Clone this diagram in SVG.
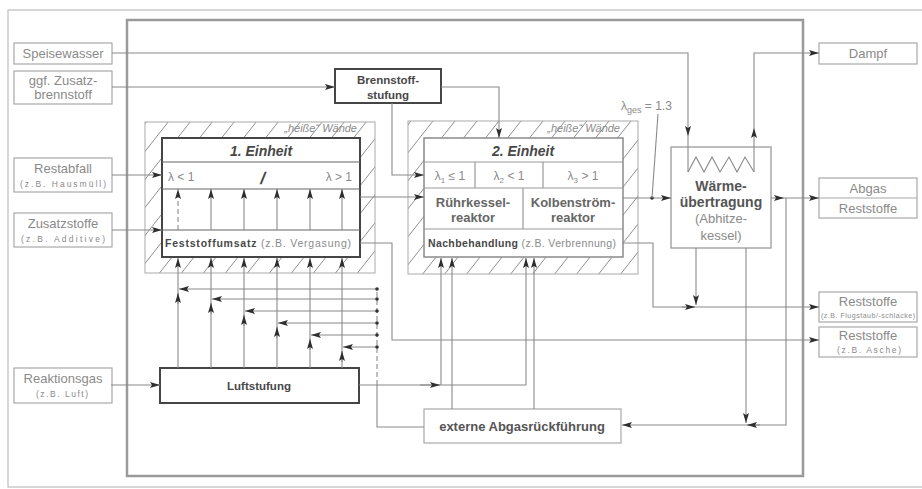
<svg xmlns="http://www.w3.org/2000/svg" width="922" height="489" viewBox="0 0 922 489">
<style>
.ln{stroke:#8a8a8a;fill:none;stroke-width:1.1}
.dl{stroke:#8a8a8a;fill:none;stroke-width:1.1;stroke-dasharray:5 3}
.bx{fill:#fff;stroke:#a8a8a8;stroke-width:1.2}
.tb{fill:#fff;stroke:#454545;stroke-width:2}
.hb{fill:url(#h);stroke:#aaa;stroke-width:1}
.t{font-family:"Liberation Sans",Arial,sans-serif;fill:#8a8a8a;font-size:13px;text-anchor:middle}
.s{font-size:8.5px}
.b{font-weight:bold;fill:#484848}
.g{font-weight:normal;fill:#8a8a8a}
.i{font-style:italic}
.hw{font-size:11px;text-anchor:end;font-style:italic}
</style>
<defs>
<pattern id="h" width="22" height="28" patternUnits="userSpaceOnUse">
<path d="M-2,30.5 L24,-2.5" stroke="#8e8e8e" stroke-width="1"/>
</pattern>
<marker id="a" viewBox="0 0 10 6" refX="10" refY="3" markerWidth="10" markerHeight="6" orient="auto" markerUnits="userSpaceOnUse">
<path d="M0,0 L10,3 L0,6 L2,3 z" fill="#2e2e2e"/>
</marker>
</defs>
<rect x="0" y="0" width="922" height="489" fill="#fff"/>
<rect x="8" y="10" width="920" height="477" fill="none" stroke="#bdbdbd" stroke-width="1.2"/>
<rect x="127" y="20" width="676" height="456" fill="none" stroke="#9a9a9a" stroke-width="2.5"/>

<g id="in-speisewasser"><rect class="bx" x="14" y="43" width="98" height="21"/><text class="t" x="63" y="58">Speisewasser</text></g>
<g id="in-zusatzbrennstoff"><rect class="bx" x="14" y="71" width="98" height="33"/><text class="t" x="63" y="85">ggf. Zusatz-</text><text class="t" x="63" y="99">brennstoff</text></g>
<g id="in-restabfall"><rect class="bx" x="14" y="158" width="98" height="34"/><text class="t" x="63" y="173">Restabfall</text><text class="t s" x="63" y="187" textLength="86" lengthAdjust="spacing">(z.B. Hausmüll)</text></g>
<g id="in-zusatzstoffe"><rect class="bx" x="14" y="213" width="98" height="34"/><text class="t" x="63" y="228">Zusatzstoffe</text><text class="t s" x="63" y="242" textLength="84" lengthAdjust="spacing">(z.B. Additive)</text></g>
<g id="in-reaktionsgas"><rect class="bx" x="14" y="368" width="98" height="35"/><text class="t" x="63" y="383">Reaktionsgas</text><text class="t s" x="62" y="397" textLength="52" lengthAdjust="spacing">(z.B. Luft)</text></g>

<g id="out-dampf"><rect class="bx" x="819" y="43" width="98" height="21"/><text class="t" x="868" y="58">Dampf</text></g>
<g id="out-abgas"><rect class="bx" x="819" y="178" width="98" height="40"/><line x1="819" y1="198" x2="917" y2="198" stroke="#a8a8a8" stroke-width="1.2"/><text class="t" x="868" y="193">Abgas</text><text class="t" x="868" y="213">Reststoffe</text></g>
<g id="out-reststoffe-flugstaub"><rect class="bx" x="819" y="292" width="98" height="30"/><text class="t" x="868" y="306">Reststoffe</text><text class="t" x="868" y="318" style="font-size:7px" textLength="94" lengthAdjust="spacing">(z.B. Flugstaub/-schlacke)</text></g>
<g id="out-reststoffe-asche"><rect class="bx" x="819" y="327" width="98" height="30"/><text class="t" x="868" y="340">Reststoffe</text><text class="t s" x="869" y="353" textLength="64" lengthAdjust="spacing">(z.B. Asche)</text></g>

<g id="einheit1">
<rect class="hb" x="145" y="122" width="230" height="151"/>
<text class="t hw" x="357" y="132">„heiße“ Wände</text>
<rect class="tb" x="162" y="138" width="198" height="119"/>
<line x1="162" y1="162" x2="360" y2="162" stroke="#666" stroke-width="1.2"/>
<line x1="162" y1="189" x2="360" y2="189" stroke="#666" stroke-width="1.2"/>
<line x1="162" y1="230" x2="360" y2="230" stroke="#666" stroke-width="1.2"/>
<text class="t b i" x="261" y="156" style="font-size:14px">1. Einheit</text>
<text class="t" x="168" y="181" style="font-size:12px;text-anchor:start">λ &lt; 1</text>
<text class="t" x="352" y="181" style="font-size:12px;text-anchor:end">λ &gt; 1</text>
<text class="t b" x="262" y="184" style="font-size:17px" transform="skewX(-12) translate(39,0)">/</text>
<text class="t b" x="165" y="247" style="font-size:10.5px;text-anchor:start" textLength="186" lengthAdjust="spacing">Feststoffumsatz <tspan class="g">(z.B. Vergasung)</tspan></text>
</g>

<g id="einheit2">
<rect class="hb" x="408" y="121" width="230" height="153"/>
<text class="t hw" x="620" y="132">„heiße“ Wände</text>
<rect x="424" y="138" width="199" height="119" fill="#fff" stroke="#8a8a8a" stroke-width="1.5"/>
<line x1="424" y1="162" x2="623" y2="162" stroke="#999" stroke-width="1.2"/>
<line x1="424" y1="188" x2="623" y2="188" stroke="#999" stroke-width="1.2"/>
<line x1="424" y1="229" x2="623" y2="229" stroke="#999" stroke-width="1.2"/>
<line x1="475" y1="162" x2="475" y2="188" stroke="#999" stroke-width="1.2"/>
<line x1="543" y1="162" x2="543" y2="188" stroke="#999" stroke-width="1.2"/>
<line x1="523" y1="188" x2="523" y2="229" stroke="#999" stroke-width="1.2"/>
<text class="t b i" x="523" y="156" style="font-size:14px">2. Einheit</text>
<text class="t" x="450" y="180" style="font-size:12px">λ<tspan dy="3" style="font-size:8px">1</tspan><tspan dy="-3"> ≤ 1</tspan></text>
<text class="t" x="509" y="180" style="font-size:12px">λ<tspan dy="3" style="font-size:8px">2</tspan><tspan dy="-3"> &lt; 1</tspan></text>
<text class="t" x="583" y="180" style="font-size:12px">λ<tspan dy="3" style="font-size:8px">3</tspan><tspan dy="-3"> &gt; 1</tspan></text>
<text class="t b" x="473" y="207" style="fill:#666">Rührkessel-</text>
<text class="t b" x="473" y="222" style="fill:#666">reaktor</text>
<text class="t b" x="573" y="207" style="fill:#666">Kolbenström-</text>
<text class="t b" x="573" y="222" style="fill:#666">reaktor</text>
<text class="t b" x="428" y="247" style="font-size:10.5px;text-anchor:start" textLength="188" lengthAdjust="spacing">Nachbehandlung <tspan class="g">(z.B. Verbrennung)</tspan></text>
</g>

<g id="brennstoffstufung"><rect class="tb" x="335" y="69" width="106" height="34"/><text class="t b" x="388" y="84" style="font-size:11.5px">Brennstoff-</text><text class="t b" x="388" y="99" style="font-size:11.5px">stufung</text></g>
<g id="luftstufung"><rect class="tb" x="160" y="368" width="199" height="35"/><text class="t b" x="259" y="390" style="font-size:11.5px">Luftstufung</text></g>
<g id="waermeuebertragung">
<rect x="671" y="147" width="100" height="101" fill="#fff" stroke="#9a9a9a" stroke-width="1.3"/>
<path class="ln" d="M688,172 L696,157 L704,172 L712,157 L720,172 L729,157 L737,172 L745,157 L754,172"/>
<text class="t b" x="721" y="191" style="font-size:14px;fill:#555">Wärme-</text>
<text class="t b" x="721" y="207" style="font-size:14px;fill:#555">übertragung</text>
<text class="t" x="721" y="223">(Abhitze-</text>
<text class="t" x="721" y="240">kessel)</text>
</g>
<g id="abgasrueckfuehrung"><rect class="bx" x="424" y="409" width="197" height="34"/><text class="t b" x="522" y="431" style="fill:#555">externe Abgasrückführung</text></g>
<g id="lambda-ges"><text class="t" x="621" y="110" style="font-size:12px;text-anchor:start">λ<tspan dy="3" style="font-size:9px">ges</tspan><tspan dy="-3"> = 1.3</tspan></text></g>

<g id="connectors">
<path class="ln" d="M112,53 H688 V136" marker-end="url(#a)"/>
<path class="ln" d="M688,136 V172"/>
<path class="ln" d="M754,172 V128" marker-end="url(#a)"/>
<path class="ln" d="M754,128 V53 H819" marker-end="url(#a)"/>
<path class="ln" d="M112,87 H335" marker-end="url(#a)"/>
<path class="ln" d="M441,87 H499 V138" marker-end="url(#a)"/>
<path class="ln" d="M392,103 V175 H424" marker-end="url(#a)"/>
<path class="ln" d="M112,175 H162" marker-end="url(#a)"/>
<path class="ln" d="M112,230 H162" marker-end="url(#a)"/>
<path class="ln" d="M360,197 H424" marker-end="url(#a)"/>
<path class="ln" d="M360,243 H392 V340 H819" marker-end="url(#a)"/>
<path class="ln" d="M623,198 H671" marker-end="url(#a)"/>
<circle cx="652" cy="198" r="1.8" fill="#333"/>
<path class="ln" d="M658,114 L652,198"/>
<path class="ln" d="M771,198 H784" marker-end="url(#a)"/>
<path class="ln" d="M784,198 H819" marker-end="url(#a)"/>
<path class="ln" d="M623,243 H653 V307 H819" marker-end="url(#a)"/>
<path class="ln" d="M696,248 V305" marker-end="url(#a)"/>
<path class="ln" d="M682,307 H695" marker-end="url(#a)"/>
<path class="ln" d="M746,248 V423" marker-end="url(#a)"/>
<path class="ln" d="M786,198 V425 H622" marker-end="url(#a)"/>
<path class="ln" d="M760,425 H747" marker-end="url(#a)"/>
<path class="ln" d="M111,385 H160" marker-end="url(#a)"/>
<path class="ln" d="M359,385 H526"/>
<path class="ln" d="M420,385 H440" marker-end="url(#a)"/>
<path class="ln" d="M441,385 V258" marker-end="url(#a)"/>
<path class="ln" d="M526,385 V258" marker-end="url(#a)"/>
<path class="ln" d="M452,409 V258" marker-end="url(#a)"/>
<path class="ln" d="M534,409 V258" marker-end="url(#a)"/>
<path class="ln" d="M424,427 H377 V385"/>
<path class="dl" d="M377,385 V289"/>
<path class="ln" d="M178,368 V258" marker-end="url(#a)"/>
<path class="ln" d="M211,368 V258" marker-end="url(#a)"/>
<path class="ln" d="M244,368 V258" marker-end="url(#a)"/>
<path class="ln" d="M277,368 V258" marker-end="url(#a)"/>
<path class="ln" d="M310,368 V258" marker-end="url(#a)"/>
<path class="ln" d="M342,368 V258" marker-end="url(#a)"/>
<path class="dl" d="M178,230 V189" marker-end="url(#a)"/>
<path class="ln" d="M211,230 V189" marker-end="url(#a)"/>
<path class="ln" d="M244,230 V189" marker-end="url(#a)"/>
<path class="ln" d="M277,230 V189" marker-end="url(#a)"/>
<path class="ln" d="M310,230 V189" marker-end="url(#a)"/>
<path class="ln" d="M342,230 V189" marker-end="url(#a)"/>
<path class="ln" d="M377,289 H179" marker-end="url(#a)"/>
<path class="ln" d="M377,299 H212" marker-end="url(#a)"/>
<path class="ln" d="M377,311 H245" marker-end="url(#a)"/>
<path class="ln" d="M377,323 H278" marker-end="url(#a)"/>
<path class="ln" d="M377,335 H311" marker-end="url(#a)"/>
<path class="ln" d="M377,347 H343" marker-end="url(#a)"/>
<path class="ln" d="M178,304 V293" marker-end="url(#a)"/>
<path class="ln" d="M211,314 V303" marker-end="url(#a)"/>
<path class="ln" d="M244,326 V315" marker-end="url(#a)"/>
<path class="ln" d="M277,338 V327" marker-end="url(#a)"/>
<path class="ln" d="M310,350 V339" marker-end="url(#a)"/>
<path class="ln" d="M342,362 V351" marker-end="url(#a)"/>
<g fill="#333"><circle cx="377" cy="289" r="1.8"/><circle cx="377" cy="299" r="1.8"/><circle cx="377" cy="311" r="1.8"/><circle cx="377" cy="323" r="1.8"/><circle cx="377" cy="335" r="1.8"/><circle cx="377" cy="347" r="1.8"/></g>
</g>
</svg>
